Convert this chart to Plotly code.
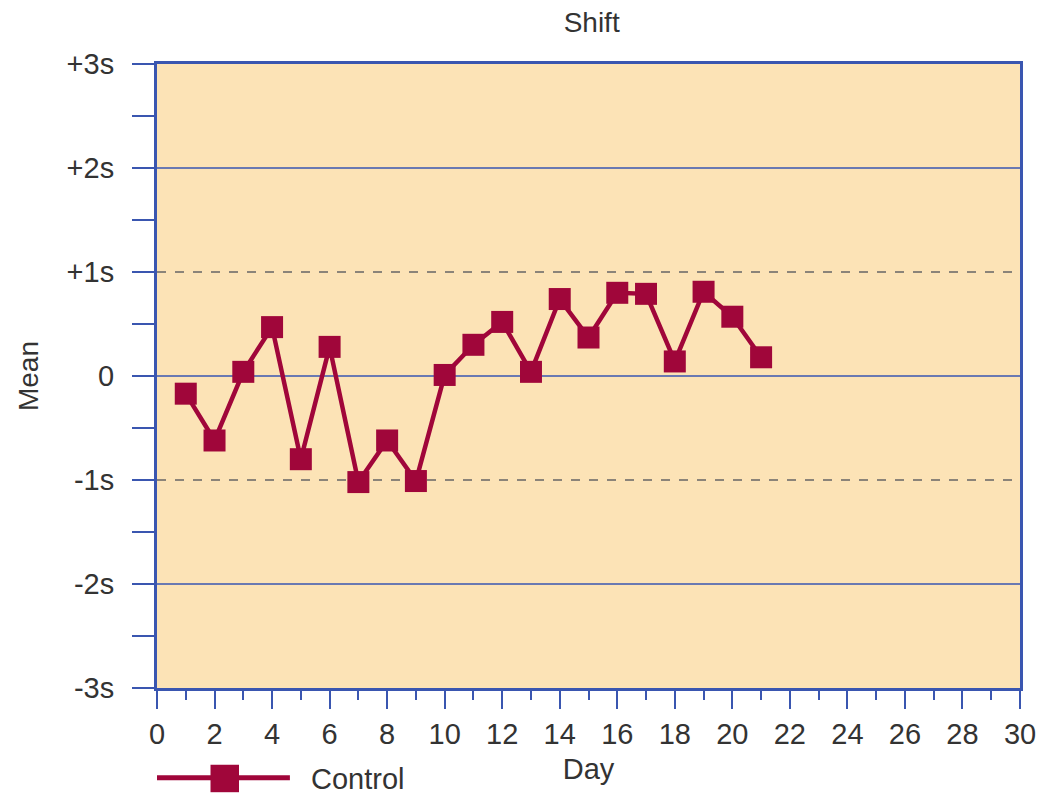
import plotly.graph_objects as go

# Levey-Jennings style control chart: daily control values in SD units
days = list(range(1, 22))
control = [-0.17, -0.62, 0.04, 0.47, -0.80, 0.28, -1.02, -0.62, -1.01, 0.01,
           0.30, 0.52, 0.04, 0.74, 0.37, 0.80, 0.79, 0.14, 0.81, 0.57, 0.18]

y_ticks = [-3, -2, -1, 0, 1, 2, 3]
y_labels = ["-3s", "-2s", "-1s", "0", "+1s", "+2s", "+3s"]
y_minor = [-2.5, -1.5, -0.5, 0.5, 1.5, 2.5]
solid_lines = [-2, 0, 2]
dashed_lines = [-1, 1]

BLUE = "#3a56b0"
RED = "#a0063a"
TEXT = "#333333"
FONT = "Liberation Sans, Arial, sans-serif"

fig = go.Figure()
fig.add_trace(go.Scatter(
    x=days, y=control, mode="lines+markers", name="Control",
    line=dict(color=RED, width=4.5),
    marker=dict(symbol="square", size=22, color=RED),
    showlegend=False,
))

# reference lines
for v in solid_lines:
    fig.add_hline(y=v, line=dict(color=BLUE, width=1.5), layer="below")
for v in dashed_lines:
    fig.add_hline(y=v, line=dict(color="#666666", width=1.5, dash="dash"), layer="below")

# hand-drawn legend below the plot
fig.add_shape(type="line", xref="paper", yref="paper", x0=0.0, x1=0.154, y0=-0.144, y1=-0.144,
              line=dict(color=RED, width=5))
fig.add_shape(type="rect", xref="paper", yref="paper", x0=0.062, x1=0.095, y0=-0.123, y1=-0.167,
              fillcolor=RED, line=dict(width=0))
fig.add_annotation(text="Control", xref="paper", yref="paper", x=0.176, y=-0.146,
                   xanchor="left", yanchor="middle", showarrow=False,
                   font=dict(size=29, color=TEXT, family=FONT))

fig.update_layout(
    width=1038, height=794,
    margin=dict(l=157, r=18, t=64, b=106),
    paper_bgcolor="white",
    plot_bgcolor="#fce3b6",
    font=dict(family=FONT, color=TEXT, size=28),
    title=dict(text="Shift", x=0.57, xanchor="center", y=0.972, yanchor="middle",
               font=dict(size=28, color=TEXT)),
)

fig.update_xaxes(
    range=[0, 30], dtick=2, tick0=0, automargin=False,
    showgrid=False, zeroline=False,
    showline=True, linecolor=BLUE, linewidth=3, mirror=True,
    ticks="outside", ticklen=18, tickwidth=2, tickcolor=BLUE,
    tickfont=dict(size=29),
    minor=dict(dtick=1, tick0=0, ticks="outside", ticklen=9, tickwidth=2, tickcolor=BLUE, showgrid=False),
    title=dict(text="Day", font=dict(size=29), standoff=10),
)
fig.update_yaxes(
    range=[-3, 3], tickmode="array", tickvals=y_ticks, ticktext=y_labels, automargin=False,
    showgrid=False, zeroline=False,
    showline=True, linecolor=BLUE, linewidth=3, mirror=True,
    ticks="outside", ticklen=22, tickwidth=2, tickcolor=BLUE,
    tickfont=dict(size=29), ticklabelstandoff=12,
    minor=dict(tickmode="array", tickvals=y_minor,
               ticks="outside", ticklen=22, tickwidth=2, tickcolor=BLUE, showgrid=False),
    title=dict(text="Mean", font=dict(size=28), standoff=20),
)

# drop the default 8px body margin so the figure fills the window exactly
fig.write_html("out.html", config={"displayModeBar": False},
               post_script="document.body.style.margin = '0';")
